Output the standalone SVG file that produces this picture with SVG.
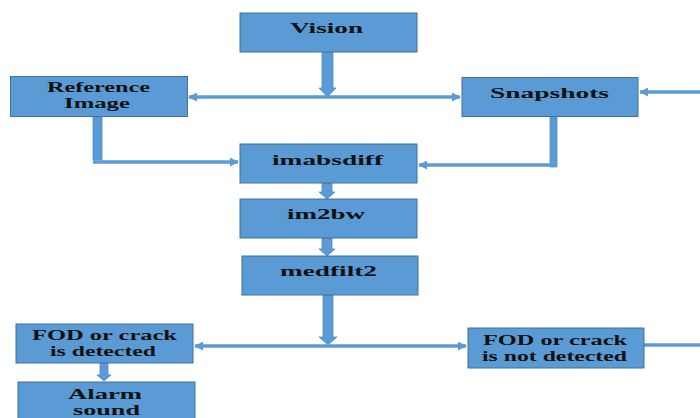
<svg xmlns="http://www.w3.org/2000/svg" width="700" height="418" viewBox="0 0 700 418">
<defs>
<style>
.box{fill:#5b9bd5;stroke:#41719c;stroke-width:1}
.t{font-family:"Liberation Serif","Times New Roman",serif;font-weight:bold;font-size:15px;fill:#111;text-anchor:start}
.ln{fill:none;stroke:#5b9bd5;stroke-width:3.5}
.blk{fill:#5b9bd5;stroke:#4f8cc6;stroke-width:0.8}
</style>
<marker id="ah" viewBox="0 0 10 10" refX="9" refY="5" markerWidth="9" markerHeight="9" markerUnits="userSpaceOnUse" orient="auto-start-reverse">
<path d="M0,0 L10,5 L0,10 Z" fill="#5b9bd5"/>
</marker>
</defs>
<rect width="700" height="418" fill="#ffffff"/>
<g id="connectors">
<path class="blk" d="M322,51 H333 V88 H336 L327.5,97 L319,88 H322 Z"/>
<path class="ln" d="M189,97 H460" marker-start="url(#ah)" marker-end="url(#ah)"/>
<path class="ln" d="M700,92 H640" marker-end="url(#ah)"/>
<path class="blk" d="M93,117 H102 V160 H93 Z"/>
<path class="ln" stroke-width="4" d="M93,162 H238" marker-end="url(#ah)"/>
<path class="blk" d="M550,117 H557 V167 H550 Z"/>
<path class="ln" stroke-width="4" d="M557,165 H419" marker-end="url(#ah)"/>
<path class="blk" d="M322,183 H332 V192 H335 L327,199 L319,192 H322 Z"/>
<path class="blk" d="M322,238 H332 V249 H335 L327,256 L319,249 H322 Z"/>
<path class="blk" d="M323,295 H333 V337 H337 L328,345 L319,337 H323 Z"/>
<path class="ln" d="M195,346 H466" marker-start="url(#ah)" marker-end="url(#ah)"/>
<path class="ln" d="M644,345 H700"/>
<path class="blk" d="M100,362 H108 V375 H111 L104,381 L97,375 H100 Z"/>
</g>
<g id="vision">
<rect class="box" x="240" y="13" width="177" height="39"/>
<text class="t" x="290" y="33" textLength="73" lengthAdjust="spacingAndGlyphs">Vision</text>
</g>
<g id="reference-image">
<rect class="box" x="10.5" y="76.5" width="177" height="40"/>
<text class="t" x="47" y="92" textLength="103" lengthAdjust="spacingAndGlyphs">Reference</text>
<text class="t" x="64" y="108" textLength="66" lengthAdjust="spacingAndGlyphs">Image</text>
</g>
<g id="snapshots">
<rect class="box" x="462" y="77.5" width="176" height="39"/>
<text class="t" x="490" y="98" textLength="119" lengthAdjust="spacingAndGlyphs">Snapshots</text>
</g>
<g id="imabsdiff">
<rect class="box" x="240" y="144" width="177" height="39"/>
<text class="t" x="272" y="165" textLength="111" lengthAdjust="spacingAndGlyphs">imabsdiff</text>
</g>
<g id="im2bw">
<rect class="box" x="240" y="199" width="177" height="39"/>
<text class="t" x="287" y="219" textLength="78" lengthAdjust="spacingAndGlyphs">im2bw</text>
</g>
<g id="medfilt2">
<rect class="box" x="242" y="256" width="176" height="39"/>
<text class="t" x="280" y="276" textLength="97" lengthAdjust="spacingAndGlyphs">medfilt2</text>
</g>
<g id="fod-detected">
<rect class="box" x="16" y="324" width="177" height="39"/>
<text class="t" x="32" y="340" textLength="145" lengthAdjust="spacingAndGlyphs">FOD or crack</text>
<text class="t" x="50" y="356" textLength="106" lengthAdjust="spacingAndGlyphs">is detected</text>
</g>
<g id="fod-not-detected">
<rect class="box" x="468" y="328" width="176" height="40"/>
<text class="t" x="483" y="345" textLength="144" lengthAdjust="spacingAndGlyphs">FOD or crack</text>
<text class="t" x="482" y="361" textLength="145" lengthAdjust="spacingAndGlyphs">is not detected</text>
</g>
<g id="alarm-sound">
<rect class="box" x="18" y="382" width="177" height="40"/>
<text class="t" x="68" y="399" textLength="74" lengthAdjust="spacingAndGlyphs">Alarm</text>
<text class="t" x="73" y="415" textLength="67" lengthAdjust="spacingAndGlyphs">sound</text>
</g>
</svg>
